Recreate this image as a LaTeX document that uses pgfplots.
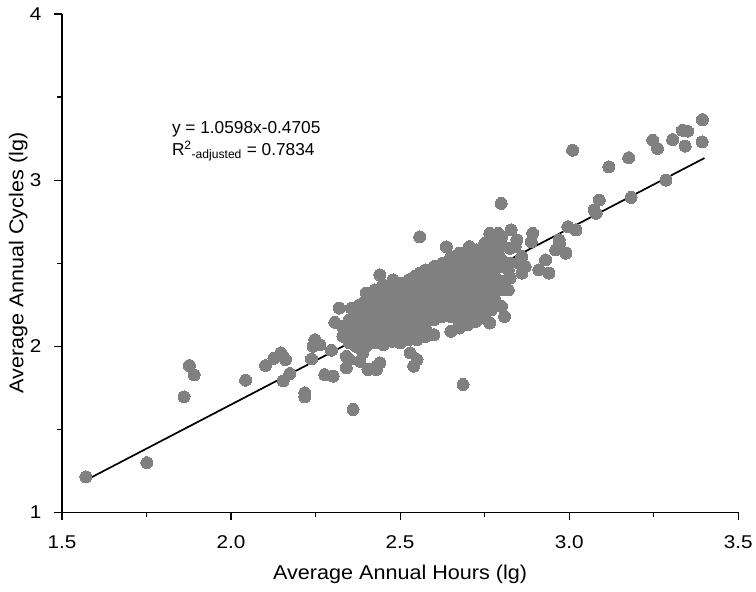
\documentclass[border=0pt]{standalone}
\usepackage{fontspec}
\setmainfont{Liberation Sans}
\newfontfamily\tickfont{Liberation Sans}[FakeStretch=1.12]
\newfontfamily\labelfont{Liberation Sans}[FakeStretch=1.08]
\usepackage{pgfplots}
\usepackage{pgfplotstable}
\pgfplotsset{compat=1.18}
\definecolor{dotgray}{RGB}{128,128,128}

% points, lg hours vs lg cycles
\pgfplotstableread{
x y
1.571 1.214
1.751 1.300
1.861 1.696
1.877 1.884
1.891 1.828
2.043 1.796
2.102 1.884
2.127 1.928
2.147 1.960
2.161 1.920
2.154 1.792
2.174 1.836
2.218 1.720
2.218 1.696
2.154 1.940
2.248 2.040
2.263 2.010
2.243 2.000
2.238 1.924
2.277 1.830
2.302 1.820
2.297 1.976
2.307 2.144
2.320 2.230
2.331 2.060
2.346 2.100
2.350 2.160
2.366 2.100
2.370 2.120
2.341 1.940
2.341 1.870
2.350 1.920
2.361 1.620
2.381 1.910
2.390 1.960
2.405 1.860
2.430 1.860
2.430 1.880
2.440 1.900
2.356 2.230
2.371 2.180
2.380 2.140
2.360 2.050
2.370 2.000
2.380 2.250
2.385 2.200
2.390 2.060
2.350 2.020
2.330 2.120
2.440 2.430
2.479 2.400
2.558 2.440
2.543 2.420
2.558 2.659
2.637 2.599
2.686 1.770
2.530 1.960
2.550 1.920
2.540 1.880
2.705 2.600
2.725 2.580
2.765 2.680
2.799 2.860
2.765 2.140
2.809 2.180
2.800 2.240
2.780 2.280
2.770 2.220
2.820 2.340
2.825 2.410
2.825 2.500
2.825 2.590
2.845 2.640
2.850 2.500
2.860 2.440
2.870 2.480
2.910 2.460
2.940 2.440
2.930 2.520
2.960 2.580
2.990 2.560
2.971 2.620
2.892 2.680
2.888 2.630
2.828 2.700
2.790 2.680
2.840 2.600
2.860 2.540
2.790 2.560
2.820 2.460
2.780 2.420
2.996 2.720
3.020 2.700
2.970 2.640
3.074 2.820
3.089 2.880
3.080 2.800
3.183 2.896
3.010 3.180
3.117 3.080
3.176 3.135
3.247 3.240
3.261 3.190
3.306 3.244
3.335 3.300
3.350 3.295
3.343 3.205
3.394 3.364
3.393 3.230
3.286 3.000
}\outerdata

% the dense core of the cloud
\pgfplotstableread{
x y
2.400 2.00
2.400 2.05
2.400 2.09
2.400 2.14
2.400 2.18
2.400 2.23
2.400 2.28
2.400 2.32
2.425 2.02
2.425 2.07
2.425 2.11
2.425 2.16
2.425 2.20
2.425 2.25
2.425 2.29
2.425 2.34
2.450 2.01
2.450 2.05
2.450 2.10
2.450 2.14
2.450 2.19
2.450 2.23
2.450 2.28
2.450 2.32
2.450 2.37
2.475 2.03
2.475 2.07
2.475 2.12
2.475 2.16
2.475 2.21
2.475 2.25
2.475 2.30
2.475 2.34
2.475 2.38
2.500 2.02
2.500 2.06
2.500 2.11
2.500 2.15
2.500 2.20
2.500 2.24
2.500 2.29
2.500 2.33
2.500 2.38
2.525 2.04
2.525 2.08
2.525 2.13
2.525 2.17
2.525 2.22
2.525 2.26
2.525 2.31
2.525 2.35
2.525 2.40
2.550 2.04
2.550 2.09
2.550 2.13
2.550 2.18
2.550 2.22
2.550 2.27
2.550 2.31
2.550 2.36
2.550 2.40
2.575 2.06
2.575 2.10
2.575 2.15
2.575 2.19
2.575 2.24
2.575 2.28
2.575 2.33
2.575 2.37
2.575 2.42
2.575 2.46
2.600 2.07
2.600 2.16
2.600 2.21
2.600 2.25
2.600 2.30
2.600 2.34
2.600 2.39
2.600 2.43
2.600 2.48
2.625 2.18
2.625 2.23
2.625 2.27
2.625 2.32
2.625 2.36
2.625 2.41
2.625 2.45
2.625 2.50
2.650 2.09
2.650 2.18
2.650 2.22
2.650 2.27
2.650 2.31
2.650 2.36
2.650 2.40
2.650 2.45
2.650 2.49
2.650 2.54
2.675 2.11
2.675 2.15
2.675 2.20
2.675 2.24
2.675 2.29
2.675 2.33
2.675 2.38
2.675 2.42
2.675 2.47
2.675 2.51
2.675 2.56
2.700 2.13
2.700 2.17
2.700 2.22
2.700 2.26
2.700 2.31
2.700 2.35
2.700 2.40
2.700 2.44
2.700 2.49
2.700 2.53
2.700 2.58
2.725 2.15
2.725 2.20
2.725 2.24
2.725 2.29
2.725 2.33
2.725 2.38
2.725 2.42
2.725 2.47
2.725 2.51
2.725 2.56
2.750 2.17
2.750 2.22
2.750 2.26
2.750 2.31
2.750 2.35
2.750 2.40
2.750 2.44
2.750 2.49
2.750 2.53
2.750 2.58
2.750 2.62
2.775 2.27
2.775 2.31
2.775 2.36
2.775 2.40
2.775 2.45
2.775 2.49
2.775 2.54
2.775 2.58
2.775 2.63
2.800 2.34
2.800 2.39
2.800 2.48
2.800 2.52
2.800 2.61
2.800 2.66
}\coredata

\begin{document}
\begin{tikzpicture}
\begin{axis}[
  scale only axis,
  width=677pt, height=499pt,
  xmin=1.5, xmax=3.5, ymin=1, ymax=4,
  axis lines=left,
  axis line style={-, line width=1.2pt},
  xtick={1.5,2.0,2.5,3.0,3.5},
  xticklabels={1.5,2.0,2.5,3.0,3.5},
  ytick={1,2,3,4},
  minor tick num=1,
  tick align=outside,
  major tick length=8pt,
  minor tick length=4.5pt,
  tick style={line width=1.2pt, black},
  /pgf/number format/assume math mode=true,
  tick label style={font=\tickfont\fontsize{18.5}{21}\selectfont},
  xticklabel style={yshift=-12pt},
  yticklabel style={xshift=-9pt},
  label style={font=\labelfont\fontsize{20}{24}\selectfont},
  xlabel={Average Annual Hours (lg)},
  ylabel={Average Annual Cycles (lg)},
  xlabel style={at={(axis description cs:0.5,-0.1337)}, anchor=base},
  ylabel style={at={(axis description cs:-0.0572,0.5)}, anchor=base},
  clip=false,
]
\addplot[only marks, mark=*, mark size=6pt, color=dotgray,
  mark options={draw=dotgray, fill=dotgray, line width=0pt}] table {\outerdata};
\addplot[only marks, mark=*, mark size=6pt, color=dotgray,
  mark options={draw=dotgray, fill=dotgray, line width=0pt}] table {\coredata};
\addplot[black, line width=1.7pt] coordinates {(1.571,1.1944) (3.40,3.1328)};
\node[anchor=base west, font=\fontsize{17.3}{20}\selectfont]
  at (axis cs:1.815,3.283) {y = 1.0598x-0.4705};
\node[anchor=base west, font=\fontsize{17.3}{20}\selectfont]
  at (axis cs:1.815,3.149) {R\textsuperscript{2}\textsubscript{-adjusted} = 0.7834};
% white margin round the axis, as in the original figure
\path (axis description cs:-0.0916,1.028) (axis description cs:1.0256,-0.1577);
\end{axis}
\end{tikzpicture}
\end{document}
